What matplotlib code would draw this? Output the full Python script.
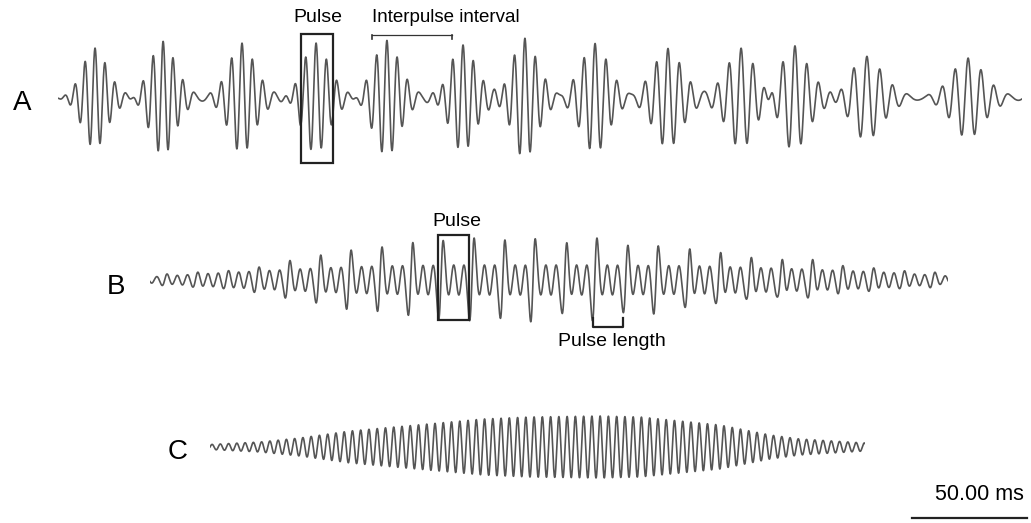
import numpy as np
import matplotlib
matplotlib.use("Agg")
import matplotlib.pyplot as plt

# ---------------- data ----------------
# Trace A: discrete pulses (time of largest peak, ms from trace start)
a_pulse_t = [16.1, 45.7, 80.0, 112.2, 143.0, 176.1, 203.0, 233.5, 265.2, 297.0, 320.4, 351.7, 395.7]
a_pulse_amp = [50, 57, 55, 55, 58, 53, 59, 55, 50, 50, 50, 41, 40]          # a.u.
a_pulse_period = [4.35, 4.35, 4.55, 4.55, 4.5, 4.5, 4.55, 4.8, 5.0, 5.2, 5.2, 5.65, 5.65]  # ms
a_duration = 419.1

# Trace B: pulse onsets (tall peak) and transient amplitude, plus carrier envelope
b_pulse_t = [7.4, 20.9, 34.3, 47.4, 60.9, 74.3, 87.4, 100.9, 114.3, 127.4, 140.9, 154.3,
             167.4, 181.3, 194.3, 207.8, 220.9, 234.8, 248.3, 261.7, 275.2, 288.3, 301.3,
             314.8, 328.3, 341.3]
b_pulse_amp = [2, 2, 2, 4, 9, 13, 17, 19, 23, 25, 27, 25, 27, 23, 27, 20, 20, 18, 16, 12,
               12, 11, 5, 4, 3, 3]
b_env_t = [0, 21.7, 47.8, 73.9, 100, 130, 195.7, 239, 282.6, 317, 347]
b_env_amp = [3, 6, 9, 12, 14, 15, 15, 14, 11, 8, 4]
b_duration = 347.0

# Trace C: single tone with envelope
c_period = 3.59
c_env_t = [0, 21.7, 39, 60.9, 90, 118.7, 139, 169.6, 187, 200, 221.7, 243.5, 256.5, 284.8]
c_env_amp = [2.5, 5, 9, 16, 22, 28, 30, 31, 30, 27, 22, 12, 8, 4]
c_duration = 284.8

scale_ms = 50.0

# ---------------- layout ----------------
W, H = 1031, 523
PX_PER_MS = 2.3
LINE = "#555555"

fig = plt.figure(figsize=(W / 100, H / 100), dpi=100)


def trace_axes(x0_px, dur_ms, base_px, half_px):
    ax = fig.add_axes([x0_px / W, 1 - (base_px + half_px) / H,
                       dur_ms * PX_PER_MS / W, 2 * half_px / H])
    ax.set_xlim(0, dur_ms)
    ax.set_ylim(-half_px, half_px)
    ax.axis("off")
    return ax


# ---- A
t = np.arange(0, a_duration, 0.02)
ya = np.zeros_like(t)
for c, amp, P in zip(a_pulse_t, a_pulse_amp, a_pulse_period):
    sig = 1.25 * P
    ya += amp * np.exp(-(t - c) ** 2 / (2 * sig ** 2)) * np.cos(2 * np.pi * (t - c) / P)
    # small after-ringing between pulses
    tc = c + 3.2 * P
    ya += 0.07 * amp * np.exp(-(t - tc) ** 2 / (2 * (1.6 * P) ** 2)) * np.cos(2 * np.pi * (t - tc) / (1.4 * P))
axA = trace_axes(58, a_duration, 98, 75)
axA.plot(t, ya, color=LINE, lw=1.2)

# ---- B
t = np.arange(0, b_duration, 0.02)
pc = (b_pulse_t[-1] - b_pulse_t[0]) / (len(b_pulse_t) - 1) / 3.0
yb = np.interp(t, b_env_t, b_env_amp) * np.cos(2 * np.pi * (t - b_pulse_t[0]) / pc)
sg = 0.9
for c, amp in zip(b_pulse_t, b_pulse_amp):
    x = (t - (c - sg)) / sg
    yb += amp * x * np.exp(0.5 - x ** 2 / 2)
axB = trace_axes(150, b_duration, 280, 60)
axB.plot(t, yb, color=LINE, lw=1.2)

# ---- C
t = np.arange(0, c_duration, 0.02)
yc = np.interp(t, c_env_t, c_env_amp) * np.sin(2 * np.pi * t / c_period)
axC = trace_axes(210, c_duration, 447, 45)
axC.plot(t, yc, color=LINE, lw=1.2)

# ---- overlay for labels and annotations (pixel coordinates)
ov = fig.add_axes([0, 0, 1, 1])
ov.set_xlim(0, W)
ov.set_ylim(H, 0)
ov.axis("off")
ov.patch.set_alpha(0)

FONT = "Liberation Sans"
for lab, x, y in [("A", 22, 103), ("B", 116, 287), ("C", 178, 452)]:
    ov.text(x, y, lab, fontsize=20, family=FONT, ha="center", va="center")

# A annotations
ov.add_patch(plt.Rectangle((301, 34), 32, 129, fill=False, lw=1.6, ec="#222222"))
ov.text(318, 18, "Pulse", fontsize=14, family=FONT, ha="center", va="center")
ov.plot([372, 452], [35, 35], color="#333333", lw=0.9)
ov.plot([372, 372], [35, 39], color="#333333", lw=1.2)
ov.plot([452, 452], [35, 39], color="#333333", lw=1.2)
ov.text(446, 17, "Interpulse interval", fontsize=13.5, family=FONT, ha="center", va="center")

# B annotations
ov.add_patch(plt.Rectangle((438, 235), 31, 85, fill=False, lw=1.6, ec="#222222"))
ov.text(457, 222, "Pulse", fontsize=14, family=FONT, ha="center", va="center")
ov.plot([593, 593, 623, 623], [318, 327, 327, 318], color="#222222", lw=1.6)
ov.text(612, 341, "Pulse length", fontsize=14, family=FONT, ha="center", va="center")

# scale bar
bar_px = scale_ms * PX_PER_MS
ov.plot([1027 - bar_px, 1027], [518, 518], color="#222222", lw=1.6)
ov.text(979, 494, "50.00 ms", fontsize=15.5, family=FONT, ha="center", va="center")

fig.savefig("out.png", dpi=100)
